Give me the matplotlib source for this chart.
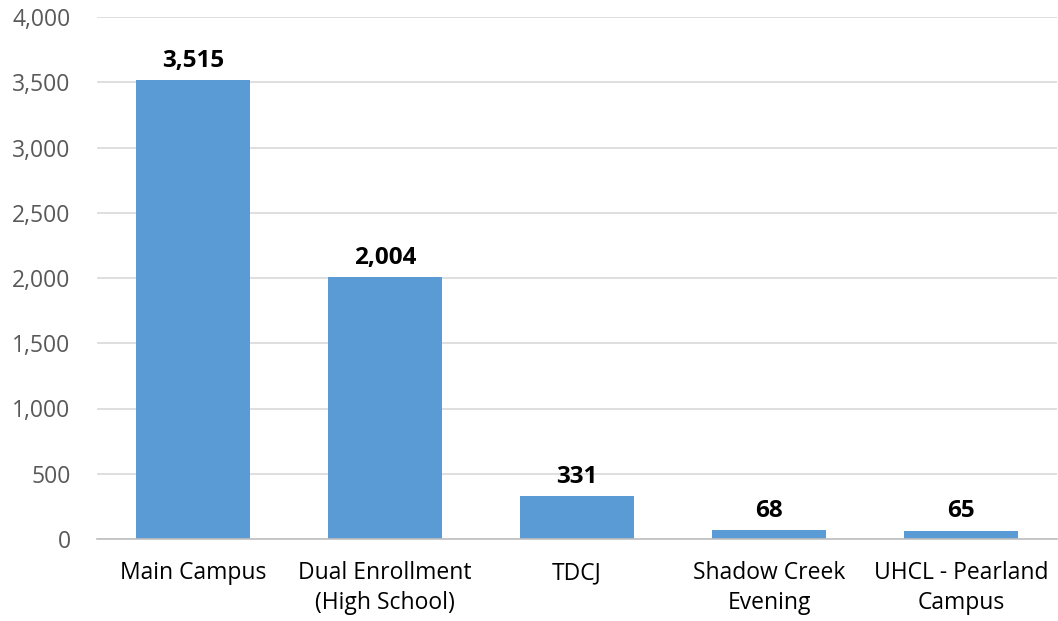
import numpy as np
import matplotlib
matplotlib.use("Agg")
import matplotlib.pyplot as plt

plt.rcParams['font.family'] = ['Open Sans', 'DejaVu Sans']

categories = ["Main Campus", "Dual Enrollment\n(High School)", "TDCJ",
              "Shadow Creek\nEvening", "UHCL - Pearland\nCampus"]
values = [3515, 2004, 331, 68, 65]

fig = plt.figure(figsize=(10.58, 6.21), dpi=100)
ax = fig.add_axes([97/1058, 82/621, 960/1058, 522/621])

x = np.arange(len(categories))
ax.bar(x, values, width=0.59, color="#5B9BD5", zorder=3)

for xi, v in zip(x, values):
    ax.text(xi, v + 55, f"{v:,}", ha="center", va="bottom",
            fontsize=17.5, fontweight="bold", color="black")

ax.set_xlim(-0.5, len(categories) - 0.5)
ax.set_ylim(0, 4000)
ax.set_yticks(np.arange(0, 4001, 500))
ax.set_yticklabels([f"{t:,}" for t in range(0, 4001, 500)])
ax.set_xticks(x)
ax.set_xticklabels(categories, linespacing=1.3)

ax.yaxis.grid(True, color="#D9D9D9", linewidth=1.2, zorder=0)
for s in ["top", "right", "left"]:
    ax.spines[s].set_visible(False)
ax.spines["bottom"].set_color("#BFBFBF")
ax.spines["bottom"].set_linewidth(1.2)
ax.spines["bottom"].set_zorder(4)

ax.tick_params(axis="y", length=0, labelsize=16.5, labelcolor="#595959", pad=19)
ax.tick_params(axis="x", length=0, labelsize=16.5, labelcolor="black", pad=16)

fig.savefig("out.png", dpi=100)
